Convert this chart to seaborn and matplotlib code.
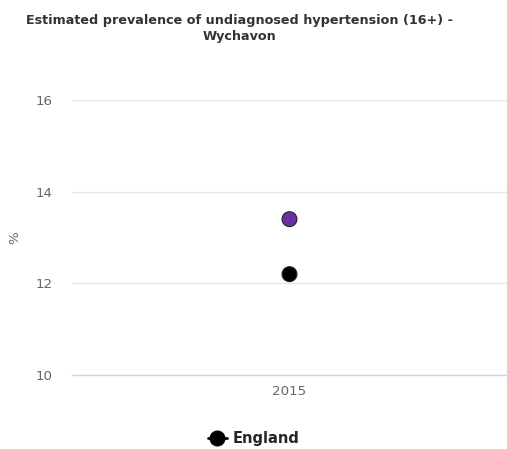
import matplotlib.pyplot as plt
import seaborn as sns
import pandas as pd
from matplotlib.lines import Line2D

# Data
years = ['2015']
wychavon = [13.4]
england = [12.2]

df = pd.DataFrame({'year': years * 2,
                   'value': wychavon + england,
                   'area': ['Wychavon'] * len(years) + ['England'] * len(years)})

sns.set_style('white')
plt.rcParams['font.family'] = ['DejaVu Sans']

fig, ax = plt.subplots(figsize=(5.07, 4.49), dpi=100)
plt.subplots_adjust(left=72/507, right=1.0, top=1-100/449, bottom=1-375/449)

sns.scatterplot(data=df, x='year', y='value', hue='area',
                palette={'Wychavon': '#6a2fa6', 'England': '#000000'},
                s=115, edgecolor='#222222', linewidth=0.8, legend=False, ax=ax, zorder=3)

ax.set_ylim(10, 16)
ax.set_yticks([10, 12, 14, 16])
ax.set_xlim(-0.5, 0.5)
ax.grid(axis='y', color='#e6e6e6', linewidth=1)
ax.grid(axis='x', visible=False)
for s in ['top', 'right', 'left']:
    ax.spines[s].set_visible(False)
ax.spines['bottom'].set_color('#ccd6eb')
ax.spines['bottom'].set_linewidth(1)
ax.tick_params(axis='y', length=0, labelcolor='#666666', labelsize=9.6, pad=14)
ax.tick_params(axis='x', length=0, labelcolor='#666666', labelsize=9.6, pad=7)
ax.set_xlabel('')
ax.set_ylabel('%', color='#666666', fontsize=9.6, labelpad=10)

fig.suptitle('Estimated prevalence of undiagnosed hypertension (16+) -\nWychavon',
             fontsize=9.2, fontweight='bold', color='#333333', y=0.968, x=0.473,
             linespacing=1.3)

handle = Line2D([0], [0], color='black', marker='o', markersize=10.5, linewidth=2)
fig.legend([handle], ['England'], loc='center', bbox_to_anchor=(0.5, 1-439/449),
           frameon=False, handlelength=1.3, handletextpad=0.4,
           prop={'weight': 'bold', 'size': 10.5})

plt.savefig('out.png', dpi=100)
